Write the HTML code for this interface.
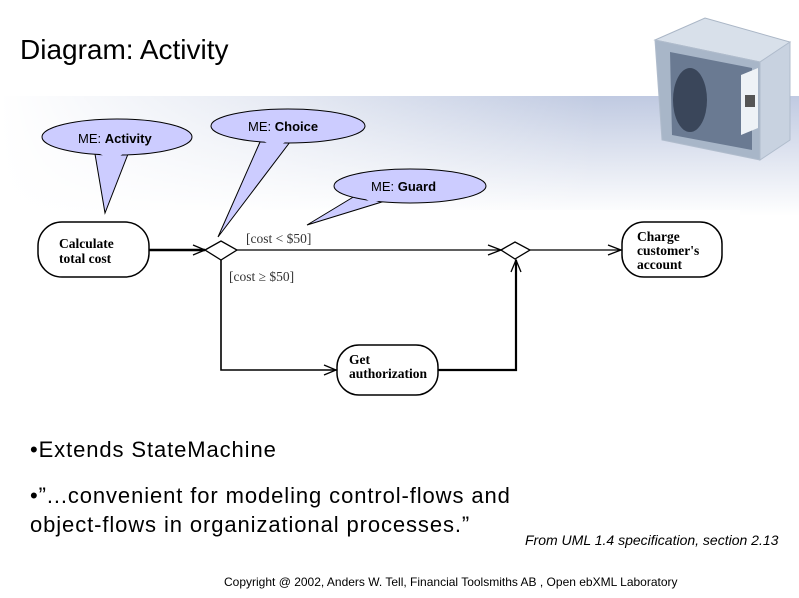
<!DOCTYPE html>
<html><head><meta charset="utf-8"><style>
body{margin:0;width:799px;height:598px;overflow:hidden;background:#fff;position:relative;font-family:"Liberation Sans",sans-serif}
.band{position:absolute;left:0;top:96px;width:799px;height:120px;background:linear-gradient(to bottom,rgba(185,196,222,0.9),rgba(255,255,255,0) 100%);}
.bandmask{position:absolute;left:0;top:96px;width:799px;height:120px;background:linear-gradient(to right,#fff 0%,rgba(255,255,255,0.6) 35%,rgba(255,255,255,0) 75%)}
.t{position:absolute;white-space:nowrap;color:#000}
</style></head><body>
<div class="band"></div><div class="bandmask"></div>
<div class="t" style="left:20px;top:34px;font-size:28px">Diagram: Activity</div>
<svg width="799" height="598" style="position:absolute;left:0;top:0">
<!-- cube -->
<polygon points="655,40 705,18 790,42 760,62" fill="#d8e0ea" stroke="#aab6c6"/>
<polygon points="655,40 760,62 760,160 662,140" fill="#a8b6c8" stroke="#b0bccc"/>
<polygon points="670,52 752,68 752,150 672,135" fill="#6a7a92"/>
<ellipse cx="690" cy="100" rx="17" ry="32" fill="#3a465a"/>
<polygon points="760,62 790,42 790,140 760,160" fill="#c8d2e0" stroke="#b0bccc"/>
<polygon points="741,75 758,68 758,128 741,135" fill="#eef2f6"/>
<rect x="745" y="95" width="10" height="12" fill="#555"/>
<rect x="20" y="210" width="720" height="192" fill="#fff"/>
<g fill="#ccccff" stroke="#000" stroke-width="1">
<path d="M95,154 L105,213 L128,154 Z"/>
<ellipse cx="117" cy="137" rx="75" ry="18"/>
<path d="M260,142 L218,237 L290,142 Z" />
<ellipse cx="288" cy="126" rx="77" ry="17"/>
<path d="M355,196 L307,225 L385,201 Z"/>
<ellipse cx="410" cy="186" rx="76" ry="17"/>
</g>
<g fill="#ccccff" stroke="none">
<path d="M96,152 L127,152 L112,160Z"/><path d="M262,140 L289,140 L275,148Z"/><path d="M356,193 L386,199 L372,203Z"/>
</g>
<g fill="#fff" stroke="#000" stroke-width="1.5">
<rect x="38" y="222" width="111" height="55" rx="24"/>
<rect x="622" y="222" width="100" height="55" rx="22"/>
<rect x="337" y="345" width="101" height="50" rx="22"/>
</g>
<g stroke="#000" fill="none" stroke-width="1.3">
<line x1="149" y1="250" x2="205" y2="250" stroke-width="2.5"/>
<polyline points="193,245 205,250 193,255"/>
<polygon points="205,250 221,241 237,250 221,260" fill="#fff"/>
<line x1="237" y1="250" x2="501" y2="250"/>
<polyline points="488,245 501,250 488,255"/>
<polygon points="501,250 515,242 530,250 515,259" fill="#fff"/>
<line x1="530" y1="250" x2="622" y2="250"/>
<polyline points="608,245 621,250 608,255"/>
<polyline points="221,260 221,370 337,370" stroke-width="1.6"/>
<polyline points="324,365 336,370 324,375"/>
<polyline points="438,370 516,370 516,260" stroke-width="2.2"/>
<polyline points="511,272 516,260 521,272"/>
</g>
<g font-family="Liberation Serif,serif" font-weight="bold" font-size="13.5">
<text x="59" y="248">Calculate</text><text x="59" y="263">total cost</text>
<text x="637" y="241">Charge</text><text x="637" y="255">customer's</text><text x="637" y="269">account</text>
<text x="349" y="364">Get</text><text x="349" y="378">authorization</text>
</g>
<g font-family="Liberation Serif,serif" font-size="13.5" fill="#333">
<text x="246" y="243">[cost &lt; $50]</text><text x="229" y="281">[cost ≥ $50]</text>
</g>
<g font-size="13">
<text x="78" y="143">ME: <tspan font-weight="bold">Activity</tspan></text>
<text x="248" y="131">ME:  <tspan font-weight="bold">Choice</tspan></text>
<text x="371" y="191">ME:  <tspan font-weight="bold">Guard</tspan></text>
</g>
</svg>
<div class="t" style="left:30px;top:437px;font-size:22px;letter-spacing:0.9px">•Extends StateMachine</div>
<div class="t" style="left:30px;top:481px;font-size:22px;letter-spacing:0.9px;line-height:29px">•”...convenient for modeling control-flows and<br>object-flows in organizational processes.”</div>
<div class="t" style="left:525px;top:532px;font-size:14px;font-style:italic">From UML 1.4 specification, section 2.13</div>
<div class="t" style="left:224px;top:575px;font-size:12px">Copyright @ 2002, Anders W. Tell, Financial Toolsmiths AB , Open ebXML Laboratory</div>
</body></html>
